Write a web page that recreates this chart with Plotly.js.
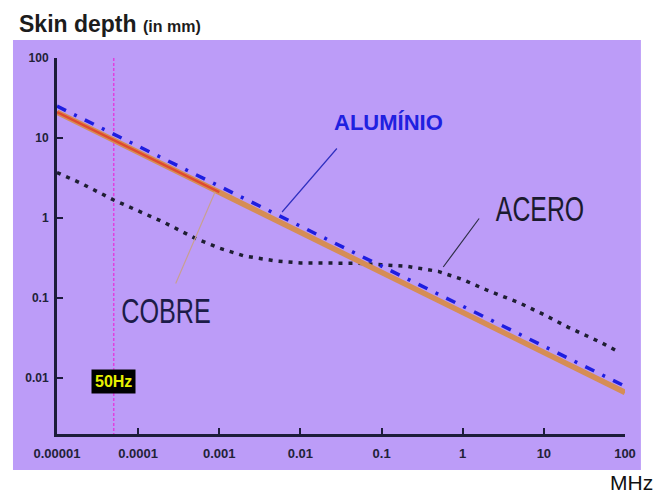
<!DOCTYPE html>
<html>
<head>
<meta charset="utf-8">
<script src="https://cdn.plot.ly/plotly-3.0.1.min.js"></script>
<style>html,body{margin:0;padding:0;background:#fff;}#chart{width:653px;height:495px;}</style>
</head>
<body>
<div id="chart"></div>
<script>
// Frequency (MHz) and skin depth (mm)
const freq = [0.00001, 0.0001, 0.001, 0.01, 0.1, 1, 10, 100];
const cobre = [21, 6.6, 2.1, 0.66, 0.21, 0.066, 0.021, 0.0066];
const aluminio = [25, 7.9, 2.5, 0.79, 0.25, 0.079, 0.025, 0.0079];

const aceroFreq = [0.00001, 0.00002, 0.00005, 0.0001, 0.0002, 0.0005, 0.001, 0.002, 0.005, 0.01, 0.02, 0.05, 0.1, 0.2, 0.5, 1, 2, 5, 10, 20, 50, 85];
const acero = [3.7, 2.7, 1.68, 1.22, 0.9, 0.56, 0.42, 0.336, 0.29, 0.274, 0.274, 0.272, 0.26, 0.25, 0.215, 0.17, 0.125, 0.087, 0.062, 0.043, 0.028, 0.021];

const tickVals = [0.00001, 0.0001, 0.001, 0.01, 0.1, 1, 10, 100];
const tickText = ['0.00001', '0.0001', '0.001', '0.01', '0.1', '1', '10', '100'];
const yTickVals = [100, 10, 1, 0.1, 0.01];
const yTickText = ['100', '10', '1', '0.1', '0.01'];

const line50X = [0.00005, 0.00005];
const line50Y = [100, 0.002];

const L = Math.log10;
const ink = '#1c1c3a';

const traces = [
  {x: line50X, y: line50Y, mode: 'lines', line: {color: '#e040e0', width: 1.5, dash: '3px,2px'}, hoverinfo: 'skip'},
  {x: aceroFreq, y: acero, mode: 'lines', name: 'ACERO', line: {color: '#1e1e32', width: 3.5, dash: '4px,6px'}},
  {x: freq, y: cobre, mode: 'lines', name: 'COBRE', line: {color: '#d68d55', width: 5.5}},
  {x: freq.slice(0, 3), y: cobre.slice(0, 3), mode: 'lines', line: {color: '#e04a30', width: 2.5}, hoverinfo: 'skip'},
  {x: freq, y: aluminio, mode: 'lines', name: 'ALUMÍNIO', line: {color: '#1e1ee0', width: 3.5, dash: '10px,9px,3px,9px'}}
];

const labelFont = 'Liberation Sans, Arial, sans-serif';

const layout = {
  width: 653, height: 495,
  margin: {l: 57, r: 28, t: 58, b: 61, pad: 0},
  paper_bgcolor: '#ffffff',
  plot_bgcolor: 'rgba(0,0,0,0)',
  showlegend: false,
  font: {family: 'Liberation Sans, Arial, sans-serif', color: ink},
  xaxis: {
    type: 'log', range: [-5, 2], tickvals: tickVals, ticktext: tickText,
    ticks: 'inside', ticklen: 6, tickwidth: 2, tickcolor: ink,
    showline: true, linewidth: 3, linecolor: ink, showgrid: false, zeroline: false,
    tickfont: {size: 13, weight: 'bold', color: '#222238'}, ticklabelstandoff: 5
  },
  yaxis: {
    type: 'log', range: [-2.7, 2], tickvals: yTickVals, ticktext: yTickText,
    ticks: 'inside', ticklen: 6, tickwidth: 2, tickcolor: ink,
    showline: true, linewidth: 3, linecolor: ink, showgrid: false, zeroline: false,
    tickfont: {size: 12, weight: 'bold', color: '#222238'}, ticklabelstandoff: 3
  },
  shapes: [
    {type: 'rect', xref: 'paper', yref: 'paper', x0: -0.0775, x1: 1.028, y0: -0.0957, y1: 1.048,
     fillcolor: '#bc9cf8', line: {width: 0}, layer: 'below'}
  ],
  annotations: [
    {xref: 'paper', yref: 'paper', x: -0.0704, y: 1.090, xanchor: 'left', yanchor: 'middle', showarrow: false,
     text: 'Skin depth <span style="font-size:16px">(in mm)</span>', font: {size: 23, weight: 'bold', color: '#1c1c1c'}},
    {xref: 'paper', yref: 'paper', x: 0.970, y: -0.128, xanchor: 'left', yanchor: 'middle', showarrow: false,
     text: 'MHz', font: {size: 21, color: '#111'}},
    {xref: 'x', yref: 'y', x: L(0.00005), y: -2.04, showarrow: false, text: '50Hz',
     bgcolor: '#000', borderpad: 3, font: {size: 16, weight: 'bold', color: '#e8f000'}},
    // pointer lines
    {xref: 'x', yref: 'y', axref: 'x', ayref: 'y', x: -3.052, y: 0.325, ax: -3.545, ay: -0.8375, text: '',
     showarrow: true, arrowhead: 0, arrowwidth: 1.2, arrowcolor: '#c8a092'},
    {xref: 'x', yref: 'y', axref: 'x', ayref: 'y', x: -2.226, y: 0.075, ax: -1.535, ay: 0.8875, text: '',
     showarrow: true, arrowhead: 0, arrowwidth: 1.2, arrowcolor: '#3030c0'},
    {xref: 'x', yref: 'y', axref: 'x', ayref: 'y', x: -0.24, y: -0.6125, ax: 0.216, ay: 0.0125, text: '',
     showarrow: true, arrowhead: 0, arrowwidth: 1.2, arrowcolor: '#303048'},
    // labels
    {xref: 'x', yref: 'y', x: -0.919, y: 1.2, showarrow: false, text: 'ALUMÍNIO',
     font: {size: 22, weight: 'bold', color: '#2020e0', family: labelFont}},
    {xref: 'x', yref: 'y', x: 0.956, y: 0.125, showarrow: false, text: 'ACERO',
     font: {size: 36, color: '#1a1a2e', family: labelFont}},
    {xref: 'x', yref: 'y', x: -3.656, y: -1.15, showarrow: false, text: 'COBRE',
     font: {size: 36, color: '#1c1c48', family: labelFont}}
  ]
};

Plotly.newPlot('chart', traces, layout, {displayModeBar: false, staticPlot: true}).then(() => {
  // condense the big labels horizontally, as in the original artwork
  const squeeze = {'ACERO': 0.69, 'COBRE': 0.7};
  document.querySelectorAll('#chart .annotation-text').forEach(t => {
    const s = squeeze[t.textContent];
    if (!s) return;
    const b = t.getBBox();
    const cx = b.x + b.width / 2;
    t.setAttribute('transform', 'translate(' + cx + ',0) scale(' + s + ',1) translate(' + (-cx) + ',0)');
  });
});
</script>
</body>
</html>
